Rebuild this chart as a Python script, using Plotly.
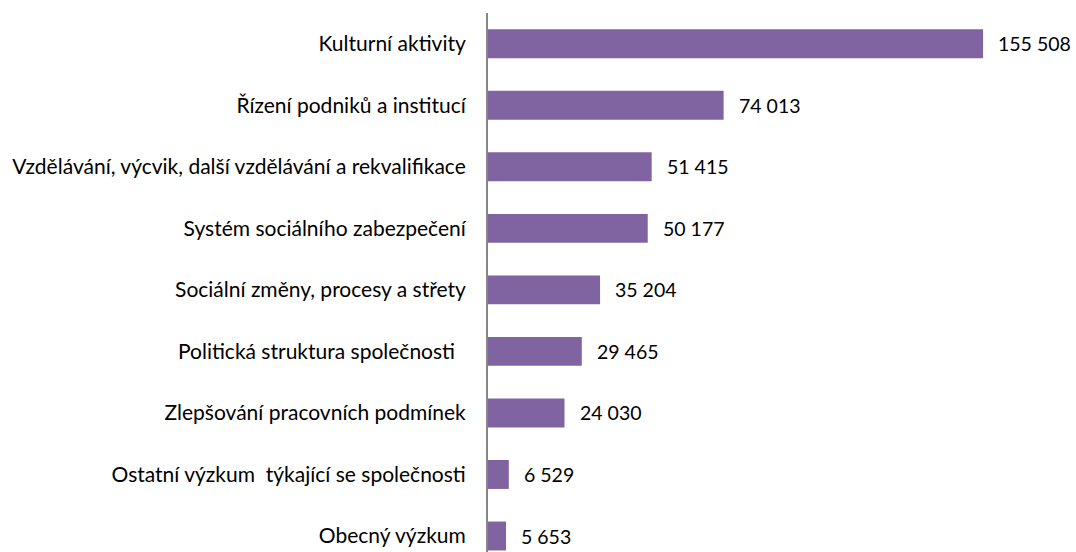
import plotly.graph_objects as go

categories = [
    "Kulturní aktivity",
    "Řízení podniků a institucí",
    "Vzdělávání, výcvik, další vzdělávání a rekvalifikace",
    "Systém sociálního zabezpečení",
    "Sociální změny, procesy a střety",
    "Politická struktura společnosti\u00a0\u00a0",
    "Zlepšování pracovních podmínek",
    "Ostatní výzkum \u00a0týkající se společnosti",
    "Obecný výzkum",
]
values = [155508, 74013, 51415, 50177, 35204, 29465, 24030, 6529, 5653]
value_labels = ["155 508", "74 013", "51 415", "50 177", "35 204", "29 465", "24 030", "6 529", "5 653"]

positions = list(range(len(categories)))
FONT = "Lato, 'Open Sans', sans-serif"

fig = go.Figure()
fig.add_trace(go.Bar(
    x=values,
    y=positions,
    orientation="h",
    marker=dict(color="#8064A2", line=dict(width=0)),
    width=0.47,
    hoverinfo="skip",
))

for v, p, t in zip(values, positions, value_labels):
    fig.add_annotation(x=v, y=p, text=t, showarrow=False, xanchor="left",
                       xshift=13, font=dict(size=19.5, color="#000000", family=FONT))

fig.update_layout(
    width=1076, height=552,
    margin=dict(l=488, r=0, t=13, b=0),
    paper_bgcolor="white", plot_bgcolor="white",
    showlegend=False,
    font=dict(family=FONT, size=21, color="#000000"),
)
fig.update_xaxes(range=[0, 184700], visible=False, showgrid=False, zeroline=False)
fig.update_yaxes(
    range=[8.26, -0.5],
    tickmode="array", tickvals=positions, ticktext=categories,
    showgrid=False, zeroline=False, showline=True, linecolor="#868686", linewidth=2,
    ticks="", ticklabelstandoff=16,
)

fig.write_html(
    "out.html",
    config={"displayModeBar": False},
    post_script="document.body.style.margin='0';document.body.style.overflow='hidden';",
)
